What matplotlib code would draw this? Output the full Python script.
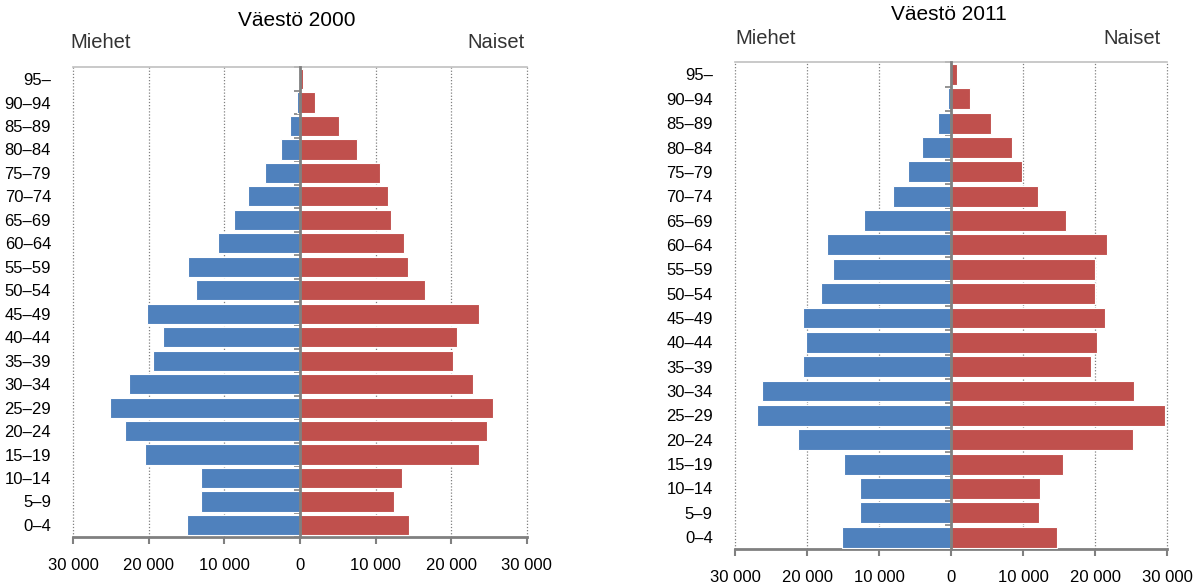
import numpy as np
import matplotlib
matplotlib.use("Agg")
import matplotlib.pyplot as plt
from matplotlib.ticker import FuncFormatter

plt.rcParams['font.family'] = ['Liberation Sans', 'DejaVu Sans']

ages = ["0–4", "5–9", "10–14", "15–19", "20–24", "25–29", "30–34", "35–39",
        "40–44", "45–49", "50–54", "55–59", "60–64", "65–69", "70–74",
        "75–79", "80–84", "85–89", "90–94", "95–"]

men_2000 = [14900, 13100, 13100, 20500, 23200, 25100, 22600, 19400, 18100, 20300,
            13800, 14800, 10800, 8700, 6900, 4600, 2500, 1300, 350, 50]
women_2000 = [14400, 12400, 13500, 23700, 24800, 25500, 22900, 20300, 20800, 23700,
              16600, 14300, 13800, 12000, 11700, 10600, 7500, 5100, 2000, 400]

men_2011 = [15100, 12700, 12600, 14900, 21200, 27000, 26200, 20500, 20200, 20600,
            18000, 16400, 17200, 12100, 8050, 6000, 4000, 1850, 500, 100]
women_2011 = [14700, 12200, 12400, 15500, 25300, 29700, 25400, 19350, 20300, 21400,
              20000, 20000, 21600, 16000, 12000, 9900, 8500, 5600, 2600, 800]

xticks = [-30000, -20000, -10000, 0, 10000, 20000, 30000]

BLUE = "#4F81BD"
RED = "#C0504D"
GRAY = "#808080"

W, H = 1202, 586
fig = plt.figure(figsize=(W / 100, H / 100), dpi=100)


def fmt_abs(v, pos):
    v = int(round(abs(v)))
    return f"{v:,}".replace(",", " ")


def pyramid(rect, men, women):
    ax = fig.add_axes(rect)
    y = np.arange(len(ages))
    ax.barh(y, -np.array(men), height=0.86, color=BLUE, edgecolor="white", linewidth=0.8, zorder=3)
    ax.barh(y, women, height=0.86, color=RED, edgecolor="white", linewidth=0.8, zorder=3)
    ax.set_xlim(-30000, 30000)
    ax.set_ylim(-0.5, len(ages) - 0.5)

    # dotted vertical grid incl. the outer edges
    ax.set_xticks(xticks)
    ax.xaxis.set_major_formatter(FuncFormatter(fmt_abs))
    ax.grid(axis="x", linestyle=(0, (1, 1.5)), color=GRAY, linewidth=0.9, zorder=0)
    for gl in ax.get_xgridlines():
        gl.set_clip_on(False)
    ax.tick_params(axis="x", direction="out", length=5, width=1.5, color=GRAY,
                   labelsize=12, pad=10)

    # zero line with small category ticks
    ax.spines["left"].set_position(("data", 0))
    ax.spines["left"].set_color(GRAY)
    ax.spines["left"].set_linewidth(2)
    ax.spines["left"].set_zorder(4)
    ax.set_yticks(np.arange(len(ages) + 1) - 0.5)
    ax.set_yticklabels([])
    ax.tick_params(axis="y", direction="out", length=4, width=1.2, color=GRAY)

    ax.spines["right"].set_visible(False)
    ax.spines["top"].set_color("#c0c0c0")
    ax.spines["top"].set_linewidth(1.2)
    ax.spines["bottom"].set_color(GRAY)
    ax.spines["bottom"].set_linewidth(2)

    # age group labels at the left edge
    sec = ax.secondary_yaxis(0)
    sec.set_yticks(y)
    sec.set_yticklabels(ages)
    sec.tick_params(length=0, labelsize=12, pad=16)
    sec.spines["left"].set_visible(False)
    return ax


pyramid([73.3 / W, 1 - 536.7 / H, 453.4 / W, 469.4 / H], men_2000, women_2000)
pyramid([735 / W, 1 - 549.3 / H, 432.3 / W, 487 / H], men_2011, women_2011)

fig.text(297 / W, 1 - 20 / H, "Väestö 2000", ha="center", va="center", fontsize=15)
fig.text(949 / W, 1 - 15 / H, "Väestö 2011", ha="center", va="center", fontsize=15)
fig.text(70 / W, 1 - 43 / H, "Miehet", ha="left", va="center", fontsize=14.5, color="#333333")
fig.text(525 / W, 1 - 43 / H, "Naiset", ha="right", va="center", fontsize=14.5, color="#333333")
fig.text(735 / W, 1 - 38 / H, "Miehet", ha="left", va="center", fontsize=14.5, color="#333333")
fig.text(1161 / W, 1 - 38 / H, "Naiset", ha="right", va="center", fontsize=14.5, color="#333333")

fig.savefig("out.png", dpi=100, facecolor="white")
